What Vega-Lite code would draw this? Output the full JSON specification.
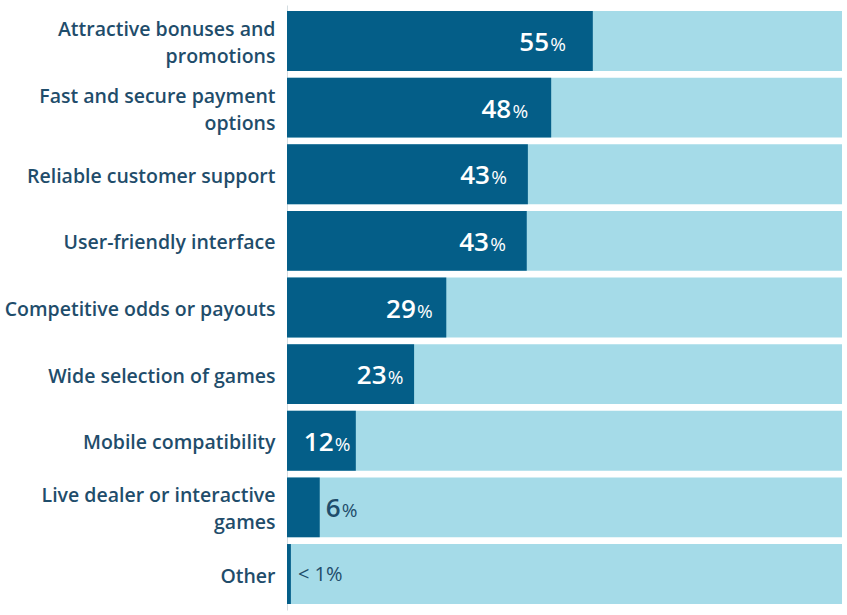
{
  "$schema": "https://vega.github.io/schema/vega-lite/v6.json",
  "width": 555,
  "height": 605,
  "autosize": {"type": "none"},
  "padding": {"left": 287, "top": 5, "right": 5, "bottom": 5},
  "config": {"view": {"stroke": null}, "font": "Open Sans"},
  "data": {
    "values": [
      {"category": "Attractive bonuses and|promotions", "value": 55.1, "label": "55"},
      {"category": "Fast and secure payment|options", "value": 47.6, "label": "48"},
      {"category": "Reliable customer support", "value": 43.4, "label": "43"},
      {"category": "User-friendly interface", "value": 43.2, "label": "43"},
      {"category": "Competitive odds or payouts", "value": 28.7, "label": "29"},
      {"category": "Wide selection of games", "value": 22.9, "label": "23"},
      {"category": "Mobile compatibility", "value": 12.4, "label": "12"},
      {"category": "Live dealer or interactive|games", "value": 5.9, "label": "6"},
      {"category": "Other", "value": 0.7, "label": "< 1%"}
    ]
  },
  "encoding": {
    "y": {
      "field": "category",
      "type": "nominal",
      "sort": null,
      "scale": {"paddingInner": 0.1, "paddingOuter": 0.09},
      "axis": {
        "title": null,
        "domain": true,
        "domainColor": "#d3dce0",
        "domainWidth": 1,
        "ticks": false,
        "labelFont": "Open Sans",
        "labelFontSize": 19.5,
        "labelFontWeight": 600,
        "labelColor": "#1f4d6b",
        "labelPadding": 12,
        "labelLimit": 300,
        "labelLineHeight": 27,
        "labelBaseline": "middle",
        "labelOffset": {"condition": {"test": "indexof(datum.value, '|') >= 0", "value": -11}, "value": 2.5},
        "labelExpr": "split(datum.value, '|')"
      }
    }
  },
  "layer": [
    {
      "mark": {"type": "bar", "color": "#a5dbe8"},
      "encoding": {
        "x": {"datum": 0, "type": "quantitative", "scale": {"domain": [0, 100], "nice": false}, "axis": null},
        "x2": {"datum": 100}
      }
    },
    {
      "mark": {"type": "bar", "color": "#045e88"},
      "encoding": {
        "x": {"field": "value", "type": "quantitative", "scale": {"domain": [0, 100], "nice": false}, "axis": null}
      }
    },
    {
      "transform": [{"filter": "datum.value >= 10"}],
      "mark": {"type": "text", "align": "right", "baseline": "alphabetic", "dx": -16, "dy": 10, "fontSize": 26, "fontWeight": 600, "color": "#ffffff"},
      "encoding": {
        "x": {"field": "value", "type": "quantitative", "scale": {"domain": [0, 110], "nice": false}, "axis": null},
        "text": {"field": "label"}
      }
    },
    {
      "transform": [{"filter": "datum.value >= 10"}],
      "mark": {"type": "text", "align": "right", "baseline": "alphabetic", "dx": 1, "dy": 10, "fontSize": 19, "fontWeight": 500, "color": "#ffffff", "text": "%"},
      "encoding": {
        "x": {"field": "value", "type": "quantitative", "scale": {"domain": [0, 110], "nice": false}, "axis": null}
      }
    },
    {
      "transform": [{"filter": "datum.value >= 1 && datum.value < 10"}],
      "mark": {"type": "text", "align": "left", "baseline": "alphabetic", "dx": 6, "dy": 10, "fontSize": 26, "fontWeight": 600, "color": "#1f4d6b"},
      "encoding": {
        "x": {"field": "value", "type": "quantitative", "scale": {"domain": [0, 100], "nice": false}, "axis": null},
        "text": {"field": "label"}
      }
    },
    {
      "transform": [{"filter": "datum.value >= 1 && datum.value < 10"}],
      "mark": {"type": "text", "align": "left", "baseline": "alphabetic", "dx": 22, "dy": 10, "fontSize": 19, "fontWeight": 500, "color": "#1f4d6b", "text": "%"},
      "encoding": {
        "x": {"field": "value", "type": "quantitative", "scale": {"domain": [0, 100], "nice": false}, "axis": null}
      }
    },
    {
      "transform": [{"filter": "datum.value < 1"}],
      "mark": {"type": "text", "align": "left", "baseline": "alphabetic", "dx": 7, "dy": 7, "fontSize": 20, "fontWeight": 400, "color": "#1f4d6b"},
      "encoding": {
        "x": {"field": "value", "type": "quantitative", "scale": {"domain": [0, 100], "nice": false}, "axis": null},
        "text": {"field": "label"}
      }
    }
  ],
  "resolve": {"scale": {"x": "independent"}}
}
